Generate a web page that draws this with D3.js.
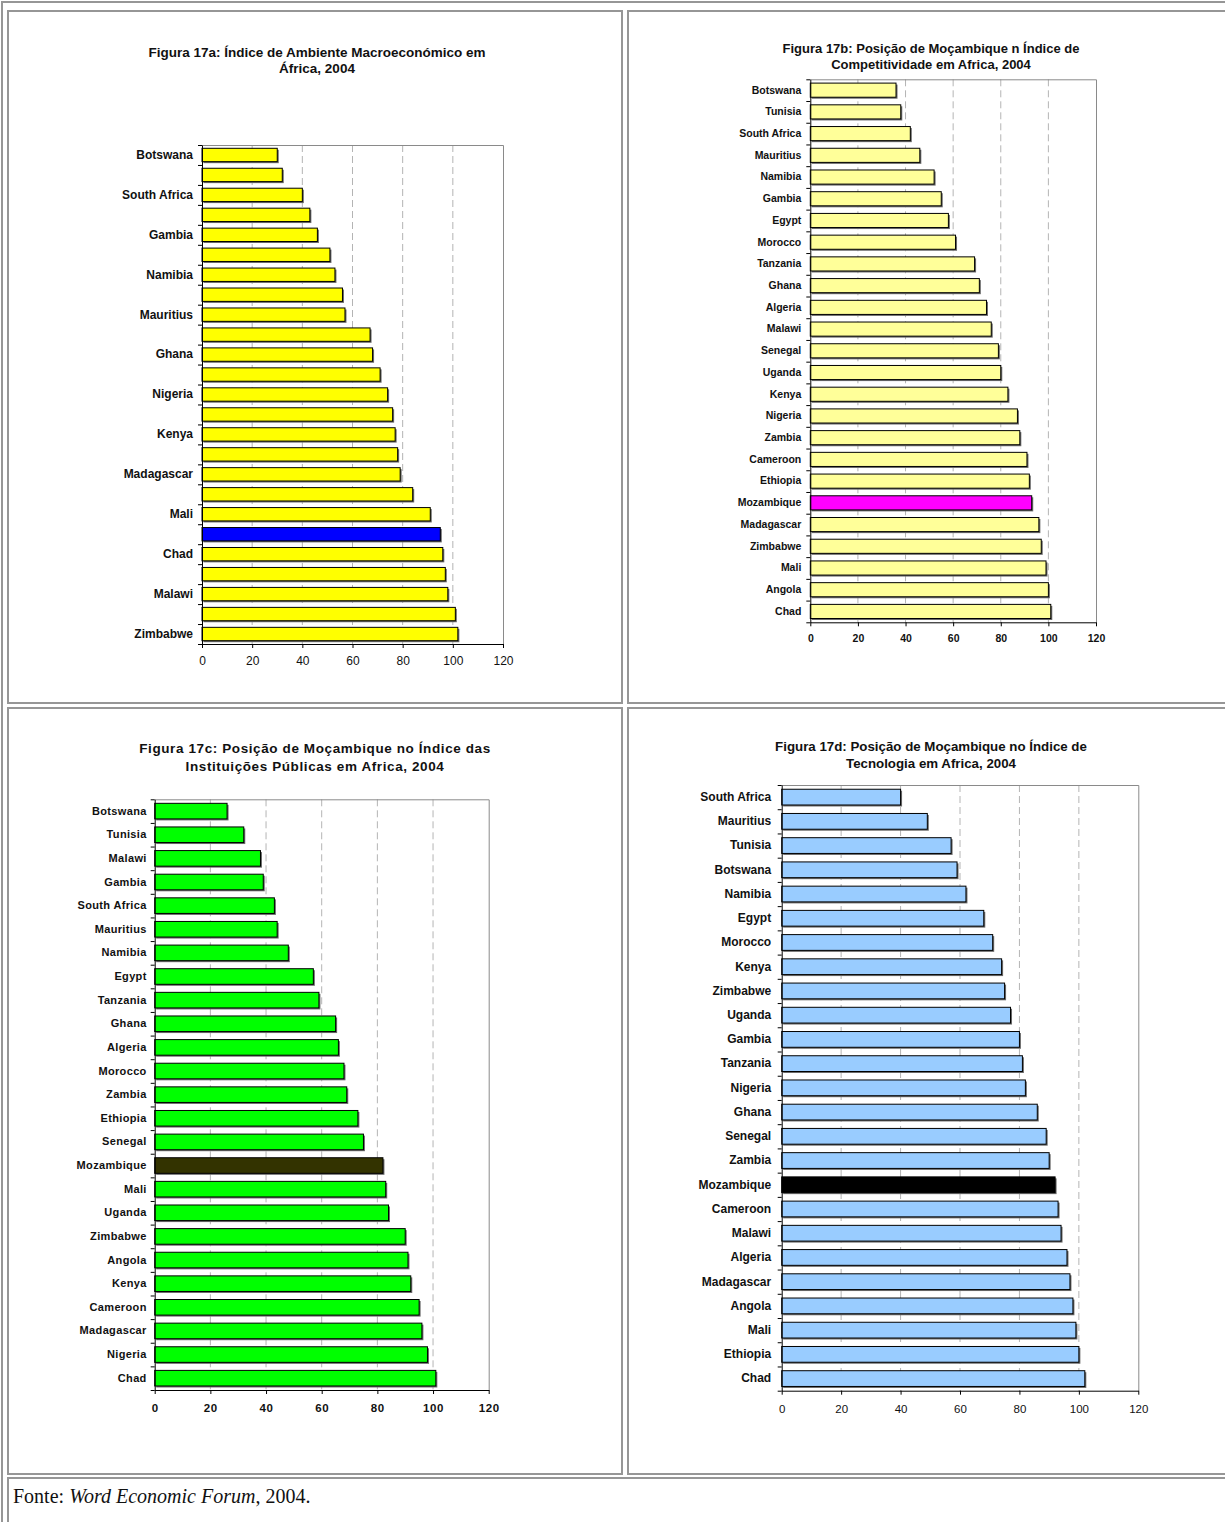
<!DOCTYPE html>
<html><head><meta charset="utf-8">
<script src="https://cdn.jsdelivr.net/npm/d3@7"></script>
<style>body{margin:0;background:#fff}</style>
</head><body>
<svg id="c" width="1225" height="1522"></svg>
<script>
const ticks = [0, 20, 40, 60, 80, 100, 120];
const highlight = "Mozambique";

const titleA = ["Figura 17a: Índice de Ambiente Macroeconómico em", "África, 2004"];
const catsA = ["Botswana","Tunisia","South Africa","Egypt","Gambia","Morocco","Namibia","Algeria","Mauritius","Tanzania","Ghana","Senegal","Nigeria","Cameroon","Kenya","Uganda","Madagascar","Ethiopia","Mali","Mozambique","Chad","Zambia","Malawi","Angola","Zimbabwe"];
const valsA = [30,32,40,43,46,51,53,56,57,67,68,71,74,76,77,78,79,84,91,95,96,97,98,101,102];

const titleB = ["Figura 17b: Posição de Moçambique n Índice de", "Competitividade em Africa, 2004"];
const catsB = ["Botswana","Tunisia","South Africa","Mauritius","Namibia","Gambia","Egypt","Morocco","Tanzania","Ghana","Algeria","Malawi","Senegal","Uganda","Kenya","Nigeria","Zambia","Cameroon","Ethiopia","Mozambique","Madagascar","Zimbabwe","Mali","Angola","Chad"];
const valsB = [36,38,42,46,52,55,58,61,69,71,74,76,79,80,83,87,88,91,92,93,96,97,99,100,101];

const titleC = ["Figura 17c: Posição de Moçambique no Índice das", "Instituições Públicas em Africa, 2004"];
const catsC = ["Botswana","Tunisia","Malawi","Gambia","South Africa","Mauritius","Namibia","Egypt","Tanzania","Ghana","Algeria","Morocco","Zambia","Ethiopia","Senegal","Mozambique","Mali","Uganda","Zimbabwe","Angola","Kenya","Cameroon","Madagascar","Nigeria","Chad"];
const valsC = [26,32,38,39,43,44,48,57,59,65,66,68,69,73,75,82,83,84,90,91,92,95,96,98,101];

const titleD = ["Figura 17d: Posição de Moçambique no Índice de", "Tecnologia em Africa, 2004"];
const catsD = ["South Africa","Mauritius","Tunisia","Botswana","Namibia","Egypt","Morocco","Kenya","Zimbabwe","Uganda","Gambia","Tanzania","Nigeria","Ghana","Senegal","Zambia","Mozambique","Cameroon","Malawi","Algeria","Madagascar","Angola","Mali","Ethiopia","Chad"];
const valsD = [40,49,57,59,62,68,71,74,75,77,80,81,82,86,89,90,92,93,94,96,97,98,99,100,102];

const footerParts = [["Fonte: ", "normal"], ["Word Economic Forum", "italic"], [", 2004.", "normal"]];

const svg = d3.select("#c");
const FONT = "'Liberation Sans', Arial, Helvetica, sans-serif";

// table borders
const bc = "#969696";
svg.append("line").attr("x1", 1).attr("x2", 1225).attr("y1", 2).attr("y2", 2).attr("stroke", bc).attr("stroke-width", 2);
svg.append("line").attr("x1", 2).attr("x2", 2).attr("y1", 1).attr("y2", 1522).attr("stroke", bc).attr("stroke-width", 2);
const cells = [[8, 11, 614, 692], [628, 11, 620, 692], [8, 708, 614, 766], [628, 708, 620, 766], [8, 1478, 1240, 100]];
svg.selectAll("rect.cell").data(cells).join("rect").attr("class", "cell")
  .attr("x", d => d[0]).attr("y", d => d[1]).attr("width", d => d[2]).attr("height", d => d[3])
  .attr("fill", "none").attr("stroke", bc).attr("stroke-width", 2);

function panel(o) {
  const g = svg.append("g");
  const n = o.cats.length;
  const x = d3.scaleLinear().domain([0, 120]).range([o.x0, o.x1]);
  const y = d3.scaleBand().domain(o.cats).range([o.y0, o.y1]).paddingInner(o.pad).paddingOuter(o.pad / 2);
  const yb = d3.scaleLinear().domain([0, n]).range([o.y0, o.y1]);

  // title
  const t = g.append("text").attr("text-anchor", "middle").attr("font-family", FONT)
    .attr("font-weight", "bold").attr("font-size", o.tSize).attr("fill", "#111")
    .attr("letter-spacing", o.tSpace || 0);
  o.title.forEach((s, i) => t.append("tspan").attr("x", o.tx).attr("y", o.ty + i * o.tLine).text(s));

  // gridlines
  g.selectAll("line.grid").data(ticks.filter(v => v > 0 && v < 120)).join("line").attr("class", "grid")
    .attr("x1", d => x(d)).attr("x2", d => x(d)).attr("y1", o.y0).attr("y2", o.y1)
    .attr("stroke", "#b4b4b4").attr("stroke-dasharray", "7,4");
  // plot frame top/right
  g.append("path").attr("d", `M${o.x0},${o.y0 + 0.5}H${x(120) + 0.5}V${o.y1}`)
    .attr("fill", "none").attr("stroke", "#8a8a8a");

  const data = o.cats.map((c, i) => ({ c, v: o.vals[i] }));
  // shadows
  g.selectAll("rect.sh").data(data).join("rect").attr("class", "sh")
    .attr("x", x(0) + 1.5).attr("y", d => y(d.c) + 1.5)
    .attr("width", d => x(d.v) - x(0)).attr("height", y.bandwidth())
    .attr("fill", "#6a6a6a");
  // bars
  g.selectAll("rect.bar").data(data).join("rect").attr("class", "bar")
    .attr("x", x(0)).attr("y", d => y(d.c))
    .attr("width", d => x(d.v) - x(0)).attr("height", y.bandwidth())
    .attr("fill", d => d.c === highlight ? o.hi : o.color)
    .attr("stroke", "#000").attr("stroke-width", 1);

  // y-axis ticks at band boundaries
  g.append("g").attr("transform", `translate(${o.x0},0)`)
    .call(d3.axisLeft(yb).tickValues(d3.range(n + 1)).tickSize(4).tickSizeOuter(0).tickFormat(""))
    .call(s => s.selectAll("line,path").attr("stroke", "#000"));
  // y labels
  const yl = g.append("g").attr("transform", `translate(${o.x0},0)`)
    .call(d3.axisLeft(y).tickSize(0).tickPadding(o.lPad).tickFormat((d, i) => (o.every2 && i % 2) ? "" : d));
  yl.select(".domain").remove();
  yl.selectAll("text").attr("font-family", FONT).attr("font-weight", "bold")
    .attr("font-size", o.lSize).attr("fill", "#111").attr("letter-spacing", o.lSpace || 0);

  // x axis
  const xa = g.append("g").attr("transform", `translate(0,${o.y1})`)
    .call(d3.axisBottom(x).tickValues(ticks).tickSize(4).tickSizeOuter(0).tickPadding(o.xPad));
  xa.selectAll("line,path").attr("stroke", "#000");
  xa.selectAll("text").attr("font-family", FONT).attr("font-weight", o.xBold ? "bold" : "normal")
    .attr("font-size", o.xSize).attr("fill", "#111").attr("letter-spacing", o.xSpace || 0);
}

panel({ title: titleA, cats: catsA, vals: valsA, color: "#ffff00", hi: "#0000ff",
  x0: 202, x1: 503, y0: 145, y1: 644, pad: 0.33, every2: true,
  tx: 317, ty: 57, tLine: 16, tSize: 13.5,
  lSize: 12, lPad: 9, xSize: 12, xPad: 8, xBold: false });

panel({ title: titleB, cats: catsB, vals: valsB, color: "#ffff99", hi: "#ff00ff",
  x0: 810.3, x1: 1096, y0: 79.3, y1: 622.3, pad: 0.35, every2: false,
  tx: 931, ty: 53, tLine: 16, tSize: 13,
  lSize: 10.5, lPad: 9, xSize: 10.5, xPad: 8, xBold: true });

panel({ title: titleC, cats: catsC, vals: valsC, color: "#00ff00", hi: "#333300",
  x0: 154.7, x1: 488.7, y0: 799.3, y1: 1390, pad: 0.34, every2: false,
  tx: 315, ty: 753, tLine: 18, tSize: 13.5, tSpace: 0.6,
  lSize: 11, lSpace: 0.35, lPad: 8, xSize: 11.5, xSpace: 0.6, xPad: 10, xBold: true });

panel({ title: titleD, cats: catsD, vals: valsD, color: "#99ccff", hi: "#000000",
  x0: 781.7, x1: 1138.3, y0: 785, y1: 1390.7, pad: 0.35, every2: false,
  tx: 931, ty: 751, tLine: 17, tSize: 13.3,
  lSize: 12, lPad: 10.5, xSize: 11.5, xPad: 10, xBold: false });

// footer
const ft = svg.append("text").attr("x", 13).attr("y", 1503)
  .attr("font-family", "'Liberation Serif', 'Times New Roman', serif").attr("font-size", 20).attr("fill", "#111");
footerParts.forEach(p => ft.append("tspan").attr("font-style", p[1]).text(p[0]));
</script>
</body></html>
